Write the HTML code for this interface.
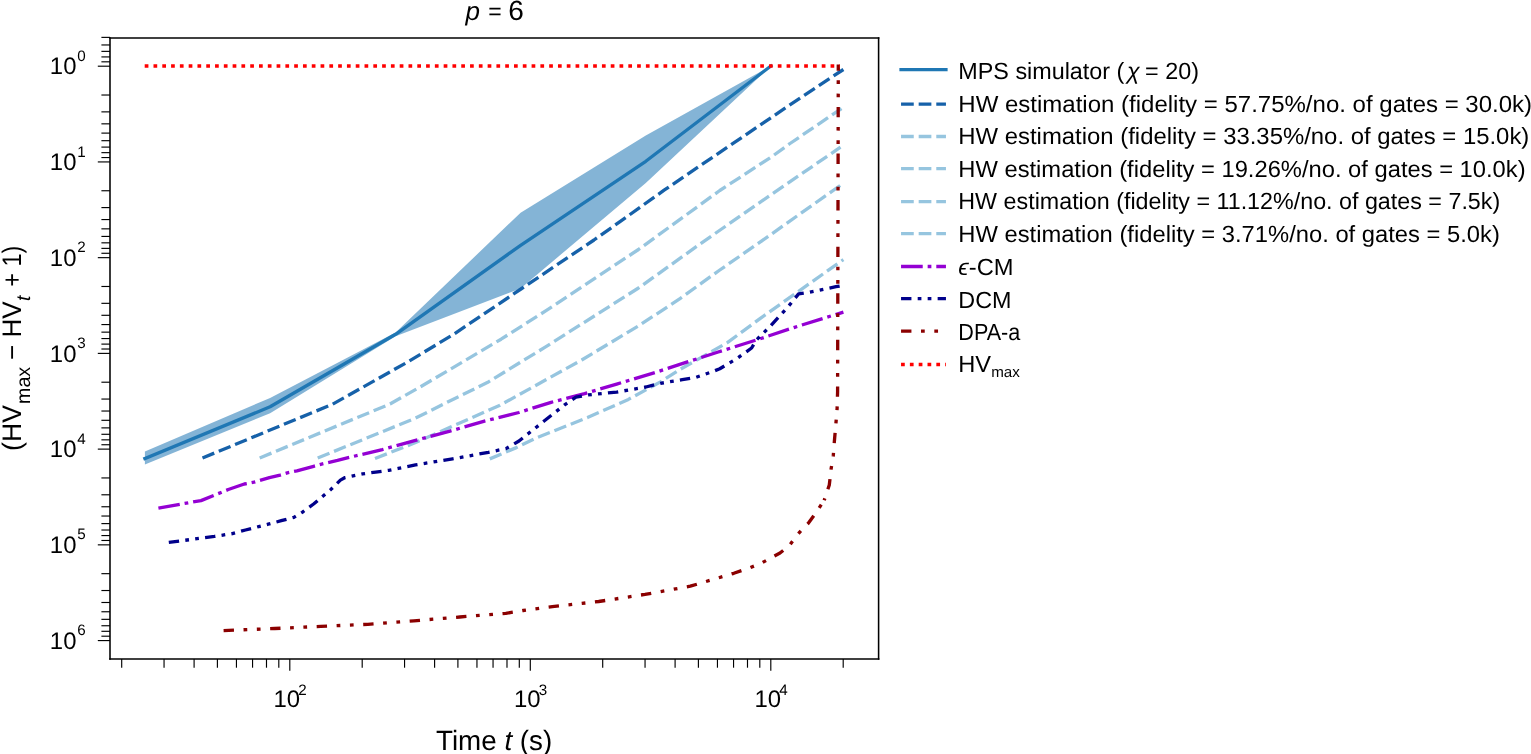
<!DOCTYPE html>
<html><head><meta charset="utf-8"><style>
html,body{margin:0;padding:0;background:#fff;}
svg{display:block;}
text{font-family:"Liberation Sans", Arial, Helvetica, sans-serif;fill:#000;text-rendering:geometricPrecision;}
.tk{stroke:#000;stroke-width:1.15;}
.tl{font-size:23.9px;}
.sup{font-size:15.2px;}
.lg{font-size:23.4px;}
.sub{font-size:15px;}
</style></head><body>
<svg width="1531" height="754" viewBox="0 0 1531 754">
<rect width="1531" height="754" fill="#fff"/>
<g id="curves">
<polygon points="144.90,451.60 270.10,397.90 395.60,332.40 520.60,212.70 645.80,135.60 770.90,66.00 770.90,66.00 645.80,183.00 520.60,288.40 395.60,336.20 270.10,413.20 144.90,464.50" fill="#1f77b4" fill-opacity="0.55" stroke="none"/>
<polyline points="144.90,458.50 270.10,406.80 395.60,334.30 520.60,245.30 645.80,161.30 770.90,66.00" fill="none" stroke="#1f77b4" stroke-width="3.32" stroke-linejoin="round" stroke-linecap="square"/>
<polyline points="202.50,458.00 332.60,404.20 408.00,361.80 454.10,334.00 521.70,288.50 594.00,240.00 620.00,221.60 664.10,190.20 788.50,105.80 843.40,69.50" fill="none" stroke="#1661a9" stroke-width="3.32" stroke-linejoin="round" stroke-linecap="butt" stroke-dasharray="12.70 4.92"/>
<polyline points="259.70,458.00 390.00,404.00 424.80,384.30 501.10,339.20 545.70,310.90 638.50,249.50 719.80,190.50 771.90,156.60 790.00,143.50 841.50,108.60" fill="none" stroke="#96c5df" stroke-width="3.32" stroke-linejoin="round" stroke-linecap="butt" stroke-dasharray="12.70 4.92"/>
<polyline points="317.70,458.00 415.00,418.40 451.80,400.00 487.80,382.30 545.20,347.10 638.50,288.00 700.00,244.00 770.00,195.40 840.50,147.20" fill="none" stroke="#96c5df" stroke-width="3.32" stroke-linejoin="round" stroke-linecap="butt" stroke-dasharray="12.70 4.92"/>
<polyline points="375.00,458.50 415.00,442.80 500.00,405.20 581.70,360.00 638.50,325.90 680.00,298.60 719.80,270.00 760.00,242.20 843.40,183.20" fill="none" stroke="#96c5df" stroke-width="3.32" stroke-linejoin="round" stroke-linecap="butt" stroke-dasharray="12.70 4.92"/>
<polyline points="489.80,458.90 516.30,447.60 537.90,437.30 587.50,417.60 628.40,399.40 660.50,381.90 680.00,369.50 727.70,342.40 760.00,318.60 843.40,259.60" fill="none" stroke="#96c5df" stroke-width="3.32" stroke-linejoin="round" stroke-linecap="butt" stroke-dasharray="12.70 4.92"/>
<polyline points="158.40,508.10 201.00,500.60 228.30,489.50 244.30,484.00 253.90,482.20 269.40,477.70 280.10,475.10 287.30,472.90 296.90,470.90 313.60,466.30 320.70,464.30 337.50,460.40 348.20,457.60 382.30,449.60 415.50,440.30 450.00,431.10 484.50,421.10 518.90,412.50 551.10,402.30 584.60,393.60 616.70,384.10 653.20,373.10 686.70,362.20 718.20,352.00 756.40,340.00 794.60,327.30 820.10,319.30 843.40,312.20" fill="none" stroke="#9400d3" stroke-width="3.32" stroke-linejoin="round" stroke-linecap="butt" stroke-dasharray="21.68 4.92 3.73 4.92"/>
<polyline points="168.80,542.40 214.50,536.40 232.40,533.60 245.50,530.00 258.70,526.60 268.20,524.20 281.30,520.70 293.90,517.30 302.20,512.30 313.60,504.00 323.10,496.00 330.90,489.40 340.40,480.10 344.60,477.70 353.00,475.90 362.50,473.90 375.70,472.10 388.80,470.30 398.30,468.40 415.50,464.90 452.60,458.90 488.40,452.30 506.00,448.60 519.00,441.00 543.80,421.30 564.20,405.20 575.90,397.20 587.50,395.00 616.70,392.10 645.90,387.00 660.50,383.30 682.30,379.70 695.90,377.40 711.80,371.90 719.80,368.70 737.30,358.30 751.60,348.00 756.40,340.00 770.70,325.70 788.20,306.60 798.60,293.90 808.90,292.30 836.00,286.70 843.40,285.30" fill="none" stroke="#00008b" stroke-width="3.32" stroke-linejoin="round" stroke-linecap="butt" stroke-dasharray="10.38 6.25 3.73 6.25 3.73 6.25"/>
<polyline points="223.60,630.60 274.80,628.50 320.80,626.40 367.80,624.30 413.80,620.80 459.80,617.00 505.80,613.30 523.20,610.50 552.30,606.70 598.70,601.50 645.00,594.40 690.30,586.20 733.80,573.30 749.60,567.90 761.40,563.10 780.00,553.00 789.20,545.80 796.70,535.50 802.50,529.00 808.50,523.00 816.90,511.30 824.20,500.20" fill="none" stroke="#8b0000" stroke-width="3.32" stroke-linejoin="round" stroke-linecap="butt" stroke-dasharray="10.38 9.58 3.73 9.58 3.73 9.58"/>
<polyline points="824.20,500.20 829.30,485.00 831.20,468.30 833.30,455.40 834.40,441.00 836.00,422.50 837.10,408.70 837.60,391.70 838.30,64.60" fill="none" stroke="#8b0000" stroke-width="3.32" stroke-linejoin="round" stroke-linecap="butt" stroke-dasharray="10.38 9.58 3.73 9.58 3.73 9.58" stroke-dashoffset="35.06"/>
<polyline points="144.70,66.00 839.80,66.00" fill="none" stroke="#ff0000" stroke-width="3.32" stroke-linejoin="round" stroke-linecap="butt" stroke-dasharray="3.718 5.075"/>
</g>
<g id="ticks">
<line x1="97.80" y1="66.20" x2="110.00" y2="66.20" class="tk"/><line x1="97.80" y1="161.93" x2="110.00" y2="161.93" class="tk"/><line x1="97.80" y1="257.66" x2="110.00" y2="257.66" class="tk"/><line x1="97.80" y1="353.39" x2="110.00" y2="353.39" class="tk"/><line x1="97.80" y1="449.12" x2="110.00" y2="449.12" class="tk"/><line x1="97.80" y1="544.85" x2="110.00" y2="544.85" class="tk"/><line x1="97.80" y1="640.58" x2="110.00" y2="640.58" class="tk"/><line x1="101.40" y1="37.38" x2="110.00" y2="37.38" class="tk"/><line x1="101.40" y1="44.96" x2="110.00" y2="44.96" class="tk"/><line x1="101.40" y1="51.37" x2="110.00" y2="51.37" class="tk"/><line x1="101.40" y1="56.92" x2="110.00" y2="56.92" class="tk"/><line x1="101.40" y1="61.82" x2="110.00" y2="61.82" class="tk"/><line x1="101.40" y1="95.02" x2="110.00" y2="95.02" class="tk"/><line x1="101.40" y1="111.87" x2="110.00" y2="111.87" class="tk"/><line x1="101.40" y1="123.84" x2="110.00" y2="123.84" class="tk"/><line x1="101.40" y1="133.11" x2="110.00" y2="133.11" class="tk"/><line x1="101.40" y1="140.69" x2="110.00" y2="140.69" class="tk"/><line x1="101.40" y1="147.10" x2="110.00" y2="147.10" class="tk"/><line x1="101.40" y1="152.65" x2="110.00" y2="152.65" class="tk"/><line x1="101.40" y1="157.55" x2="110.00" y2="157.55" class="tk"/><line x1="101.40" y1="190.75" x2="110.00" y2="190.75" class="tk"/><line x1="101.40" y1="207.60" x2="110.00" y2="207.60" class="tk"/><line x1="101.40" y1="219.57" x2="110.00" y2="219.57" class="tk"/><line x1="101.40" y1="228.84" x2="110.00" y2="228.84" class="tk"/><line x1="101.40" y1="236.42" x2="110.00" y2="236.42" class="tk"/><line x1="101.40" y1="242.83" x2="110.00" y2="242.83" class="tk"/><line x1="101.40" y1="248.38" x2="110.00" y2="248.38" class="tk"/><line x1="101.40" y1="253.28" x2="110.00" y2="253.28" class="tk"/><line x1="101.40" y1="286.48" x2="110.00" y2="286.48" class="tk"/><line x1="101.40" y1="303.33" x2="110.00" y2="303.33" class="tk"/><line x1="101.40" y1="315.30" x2="110.00" y2="315.30" class="tk"/><line x1="101.40" y1="324.57" x2="110.00" y2="324.57" class="tk"/><line x1="101.40" y1="332.15" x2="110.00" y2="332.15" class="tk"/><line x1="101.40" y1="338.56" x2="110.00" y2="338.56" class="tk"/><line x1="101.40" y1="344.11" x2="110.00" y2="344.11" class="tk"/><line x1="101.40" y1="349.01" x2="110.00" y2="349.01" class="tk"/><line x1="101.40" y1="382.21" x2="110.00" y2="382.21" class="tk"/><line x1="101.40" y1="399.06" x2="110.00" y2="399.06" class="tk"/><line x1="101.40" y1="411.03" x2="110.00" y2="411.03" class="tk"/><line x1="101.40" y1="420.30" x2="110.00" y2="420.30" class="tk"/><line x1="101.40" y1="427.88" x2="110.00" y2="427.88" class="tk"/><line x1="101.40" y1="434.29" x2="110.00" y2="434.29" class="tk"/><line x1="101.40" y1="439.84" x2="110.00" y2="439.84" class="tk"/><line x1="101.40" y1="444.74" x2="110.00" y2="444.74" class="tk"/><line x1="101.40" y1="477.94" x2="110.00" y2="477.94" class="tk"/><line x1="101.40" y1="494.79" x2="110.00" y2="494.79" class="tk"/><line x1="101.40" y1="506.76" x2="110.00" y2="506.76" class="tk"/><line x1="101.40" y1="516.03" x2="110.00" y2="516.03" class="tk"/><line x1="101.40" y1="523.61" x2="110.00" y2="523.61" class="tk"/><line x1="101.40" y1="530.02" x2="110.00" y2="530.02" class="tk"/><line x1="101.40" y1="535.57" x2="110.00" y2="535.57" class="tk"/><line x1="101.40" y1="540.47" x2="110.00" y2="540.47" class="tk"/><line x1="101.40" y1="573.67" x2="110.00" y2="573.67" class="tk"/><line x1="101.40" y1="590.52" x2="110.00" y2="590.52" class="tk"/><line x1="101.40" y1="602.49" x2="110.00" y2="602.49" class="tk"/><line x1="101.40" y1="611.76" x2="110.00" y2="611.76" class="tk"/><line x1="101.40" y1="619.34" x2="110.00" y2="619.34" class="tk"/><line x1="101.40" y1="625.75" x2="110.00" y2="625.75" class="tk"/><line x1="101.40" y1="631.30" x2="110.00" y2="631.30" class="tk"/><line x1="101.40" y1="636.20" x2="110.00" y2="636.20" class="tk"/><line x1="289.80" y1="658.90" x2="289.80" y2="670.70" class="tk"/><line x1="530.30" y1="658.90" x2="530.30" y2="670.70" class="tk"/><line x1="770.80" y1="658.90" x2="770.80" y2="670.70" class="tk"/><line x1="121.70" y1="658.90" x2="121.70" y2="667.70" class="tk"/><line x1="164.05" y1="658.90" x2="164.05" y2="667.70" class="tk"/><line x1="194.10" y1="658.90" x2="194.10" y2="667.70" class="tk"/><line x1="217.40" y1="658.90" x2="217.40" y2="667.70" class="tk"/><line x1="236.45" y1="658.90" x2="236.45" y2="667.70" class="tk"/><line x1="252.55" y1="658.90" x2="252.55" y2="667.70" class="tk"/><line x1="266.49" y1="658.90" x2="266.49" y2="667.70" class="tk"/><line x1="278.80" y1="658.90" x2="278.80" y2="667.70" class="tk"/><line x1="362.20" y1="658.90" x2="362.20" y2="667.70" class="tk"/><line x1="404.55" y1="658.90" x2="404.55" y2="667.70" class="tk"/><line x1="434.60" y1="658.90" x2="434.60" y2="667.70" class="tk"/><line x1="457.90" y1="658.90" x2="457.90" y2="667.70" class="tk"/><line x1="476.95" y1="658.90" x2="476.95" y2="667.70" class="tk"/><line x1="493.05" y1="658.90" x2="493.05" y2="667.70" class="tk"/><line x1="506.99" y1="658.90" x2="506.99" y2="667.70" class="tk"/><line x1="519.30" y1="658.90" x2="519.30" y2="667.70" class="tk"/><line x1="602.70" y1="658.90" x2="602.70" y2="667.70" class="tk"/><line x1="645.05" y1="658.90" x2="645.05" y2="667.70" class="tk"/><line x1="675.10" y1="658.90" x2="675.10" y2="667.70" class="tk"/><line x1="698.40" y1="658.90" x2="698.40" y2="667.70" class="tk"/><line x1="717.45" y1="658.90" x2="717.45" y2="667.70" class="tk"/><line x1="733.55" y1="658.90" x2="733.55" y2="667.70" class="tk"/><line x1="747.49" y1="658.90" x2="747.49" y2="667.70" class="tk"/><line x1="759.80" y1="658.90" x2="759.80" y2="667.70" class="tk"/><line x1="843.20" y1="658.90" x2="843.20" y2="667.70" class="tk"/>
</g>
<g stroke="#000" stroke-width="1.55" stroke-linecap="square"><line x1="110" y1="38" x2="110" y2="659"/><line x1="878.6" y1="38" x2="878.6" y2="659"/><line x1="110" y1="38" x2="878.6" y2="38"/><line x1="110" y1="659" x2="878.6" y2="659"/></g>
<g id="labels">
<text x="85.8" y="74.40" text-anchor="end" class="tl">10<tspan class="sup" dx="0.9" dy="-13.6">0</tspan></text><text x="85.8" y="170.13" text-anchor="end" class="tl">10<tspan class="sup" dx="0.9" dy="-13.6">1</tspan></text><text x="85.8" y="265.86" text-anchor="end" class="tl">10<tspan class="sup" dx="0.9" dy="-13.6">2</tspan></text><text x="85.8" y="361.59" text-anchor="end" class="tl">10<tspan class="sup" dx="0.9" dy="-13.6">3</tspan></text><text x="85.8" y="457.32" text-anchor="end" class="tl">10<tspan class="sup" dx="0.9" dy="-13.6">4</tspan></text><text x="85.8" y="553.05" text-anchor="end" class="tl">10<tspan class="sup" dx="0.9" dy="-13.6">5</tspan></text><text x="85.8" y="648.78" text-anchor="end" class="tl">10<tspan class="sup" dx="0.9" dy="-13.6">6</tspan></text><text x="290.10" y="706.9" text-anchor="middle" class="tl">10<tspan class="sup" dx="-2.0" dy="-12.3">2</tspan></text><text x="530.60" y="706.9" text-anchor="middle" class="tl">10<tspan class="sup" dx="-2.0" dy="-12.3">3</tspan></text><text x="771.10" y="706.9" text-anchor="middle" class="tl">10<tspan class="sup" dx="-2.0" dy="-12.3">4</tspan></text>
</g>
<text x="465.5" y="20.1" style="font-size:26px;font-style:italic">p</text><text x="488.2" y="19.1" style="font-size:23px">=</text><text x="508.3" y="20.3" style="font-size:27.8px" textLength="15.6" lengthAdjust="spacingAndGlyphs">6</text>
<text x="494.1" y="750" text-anchor="middle" style="font-size:27.9px" textLength="116.3" lengthAdjust="spacingAndGlyphs">Time <tspan font-style="italic">t</tspan> (s)</text>
<text transform="translate(20.8,450.89) rotate(-90)" style="font-size:26.8px" textLength="45.75" lengthAdjust="spacingAndGlyphs">(HV</text><text transform="translate(30.3,403.90) rotate(-90)" style="font-size:19.7px" textLength="37.10" lengthAdjust="spacingAndGlyphs">max</text><text transform="translate(20.8,360.07) rotate(-90)" style="font-size:26.8px" textLength="58.69" lengthAdjust="spacingAndGlyphs">− HV</text><text transform="translate(30.3,300.88) rotate(-90)" style="font-size:19.7px;font-style:italic" textLength="5.37" lengthAdjust="spacingAndGlyphs">t</text><text transform="translate(20.8,286.68) rotate(-90)" style="font-size:26.8px" textLength="41.06" lengthAdjust="spacingAndGlyphs">+ 1)</text>
<g id="legend">
<line x1="901.05" y1="69.60" x2="945.95" y2="69.60" stroke="#1f77b4" stroke-width="3.32" stroke-linecap="square"/><text x="958.3" y="78.90" class="lg" textLength="240.7" lengthAdjust="spacingAndGlyphs">MPS simulator (<tspan font-style="italic" dx="2.5">χ</tspan><tspan dx="-1"> = 20)</tspan></text><line x1="901.05" y1="104.20" x2="945.95" y2="104.20" stroke="#1661a9" stroke-width="3.32" stroke-linecap="butt" stroke-dasharray="12.70 4.92"/><text x="958.3" y="111.70" class="lg" textLength="573.8" lengthAdjust="spacingAndGlyphs">HW estimation (fidelity = 57.75%/no. of gates = 30.0k)</text><line x1="901.05" y1="136.50" x2="945.95" y2="136.50" stroke="#96c5df" stroke-width="3.32" stroke-linecap="butt" stroke-dasharray="12.70 4.92"/><text x="958.3" y="143.80" class="lg" textLength="571.0" lengthAdjust="spacingAndGlyphs">HW estimation (fidelity = 33.35%/no. of gates = 15.0k)</text><line x1="901.05" y1="168.70" x2="945.95" y2="168.70" stroke="#96c5df" stroke-width="3.32" stroke-linecap="butt" stroke-dasharray="12.70 4.92"/><text x="958.3" y="176.60" class="lg" textLength="567.3" lengthAdjust="spacingAndGlyphs">HW estimation (fidelity = 19.26%/no. of gates = 10.0k)</text><line x1="901.05" y1="201.60" x2="945.95" y2="201.60" stroke="#96c5df" stroke-width="3.32" stroke-linecap="butt" stroke-dasharray="12.70 4.92"/><text x="958.3" y="209.40" class="lg" textLength="541.9" lengthAdjust="spacingAndGlyphs">HW estimation (fidelity = 11.12%/no. of gates = 7.5k)</text><line x1="901.05" y1="233.70" x2="945.95" y2="233.70" stroke="#96c5df" stroke-width="3.32" stroke-linecap="butt" stroke-dasharray="12.70 4.92"/><text x="958.3" y="242.00" class="lg" textLength="541.6" lengthAdjust="spacingAndGlyphs">HW estimation (fidelity = 3.71%/no. of gates = 5.0k)</text><line x1="901.05" y1="266.50" x2="945.95" y2="266.50" stroke="#9400d3" stroke-width="3.32" stroke-linecap="butt" stroke-dasharray="21.68 4.92 3.73 4.92"/><text x="958.3" y="275.00" class="lg" textLength="55.2" lengthAdjust="spacingAndGlyphs"><tspan font-style="italic">ϵ</tspan>-CM</text><line x1="901.05" y1="298.60" x2="945.95" y2="298.60" stroke="#00008b" stroke-width="3.32" stroke-linecap="butt" stroke-dasharray="10.38 6.25 3.73 6.25 3.73 6.25"/><text x="958.3" y="307.50" class="lg" textLength="53.2" lengthAdjust="spacingAndGlyphs">DCM</text><line x1="901.05" y1="331.10" x2="945.95" y2="331.10" stroke="#8b0000" stroke-width="3.32" stroke-linecap="butt" stroke-dasharray="10.38 9.58 3.73 9.58 3.73 9.58"/><text x="958.3" y="339.60" class="lg" textLength="62.0" lengthAdjust="spacingAndGlyphs">DPA-a</text><line x1="901.05" y1="364.50" x2="945.95" y2="364.50" stroke="#ff0000" stroke-width="3.32" stroke-linecap="butt" stroke-dasharray="3.73 5.09"/><text x="958.3" y="372.40" class="lg" textLength="61.5" lengthAdjust="spacingAndGlyphs">HV<tspan class="sub" dy="5">max</tspan></text>
</g>
</svg>
</body></html>
